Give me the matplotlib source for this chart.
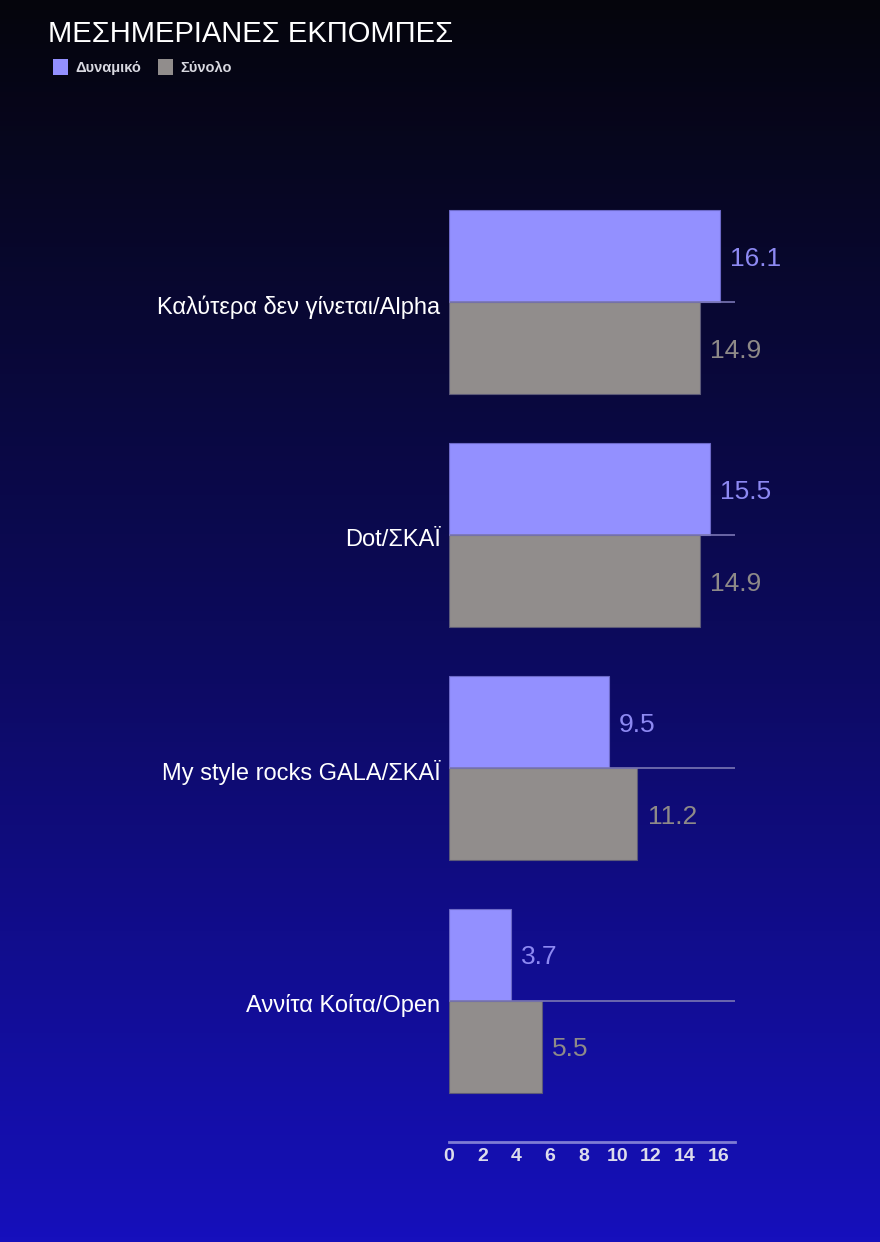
import numpy as np
import matplotlib.pyplot as plt
from matplotlib.colors import LinearSegmentedColormap
from matplotlib.patches import Rectangle

plt.rcParams['font.family'] = ['Liberation Sans', 'DejaVu Sans']

# Дані
categories = ['Καλύτερα δεν γίνεται/Alpha', 'Dot/ΣΚΑΪ', 'My style rocks GALA/ΣΚΑΪ', 'Αννίτα Κοίτα/Open']
dynamic = [16.1, 15.5, 9.5, 3.7]
total = [14.9, 14.9, 11.2, 5.5]
series_names = ['Δυναμικό', 'Σύνολο']
xticks = [0, 2, 4, 6, 8, 10, 12, 14, 16]

W, H = 880, 1242
fig = plt.figure(figsize=(W / 100, H / 100), dpi=100)

# Фон з градієнтом
bg = fig.add_axes([0, 0, 1, 1], zorder=-10)
grad = np.linspace(0, 1, 256).reshape(-1, 1)
cmap = LinearSegmentedColormap.from_list('bg', ['#05050c', '#0c0a5a', '#1610bc'])
bg.imshow(grad, aspect='auto', cmap=cmap, extent=[0, 1, 0, 1], origin='upper')
bg.axis('off')

# Область графіка (в пікселях)
left, right, top, bottom = 449, 735, 186, 1142
ax = fig.add_axes([left / W, 1 - bottom / H, (right - left) / W, (bottom - top) / H])
ax.patch.set_alpha(0)

y = np.arange(len(categories))
h = 0.395
ax.barh(y - h / 2, dynamic, height=h, color='#9390ff', edgecolor='#6c69c8', linewidth=0.8)
ax.barh(y + h / 2, total, height=h, color='#918d8c', edgecolor='#5c5a78', linewidth=0.8)

for yi, d, t in zip(y, dynamic, total):
    ax.text(d + 0.6, yi - h / 2 + 0.01, f'{d}', color='#8d89f2', fontsize=19, va='center', ha='left')
    ax.text(t + 0.6, yi + h / 2 + 0.01, f'{t}', color='#8e8a88', fontsize=19, va='center', ha='left')
    ax.plot([0, 17], [yi, yi], color='#7a76b4', linewidth=1.2, zorder=3)
    ax.text(-0.5, yi + 0.02, categories[yi], color='white', fontsize=17,
            ha='right', va='center')

ax.set_xlim(0, 17)
ax.set_ylim(3.605, -0.5)
ax.set_yticks([])
ax.set_xticks(xticks)
ax.set_xticklabels([str(v) for v in xticks], color='#dcdcec', fontsize=14, fontweight='bold')
ax.tick_params(axis='x', length=0, pad=4)
for s in ['top', 'right', 'left']:
    ax.spines[s].set_visible(False)
ax.spines['bottom'].set_color('#7f7cd4')
ax.spines['bottom'].set_linewidth(2)

# Заголовок і легенда
fig.text(48 / W, 1 - 34 / H, 'ΜΕΣΗΜΕΡΙΑΝΕΣ ΕΚΠΟΜΠΕΣ', color='white', fontsize=21, va='center', ha='left')
for i, (name, col) in enumerate(zip(series_names, ['#9390ff', '#918d8c'])):
    x0 = [53, 158][i]
    fig.patches.append(Rectangle((x0 / W, 1 - 75 / H), 15 / W, 16 / H, transform=fig.transFigure,
                                 facecolor=col, edgecolor='none'))
    fig.text((x0 + 22) / W, 1 - 68 / H, name, color='#d8d8e0', fontsize=10.5, fontweight='bold',
             va='center', ha='left')

fig.savefig('out.png', dpi=100)
